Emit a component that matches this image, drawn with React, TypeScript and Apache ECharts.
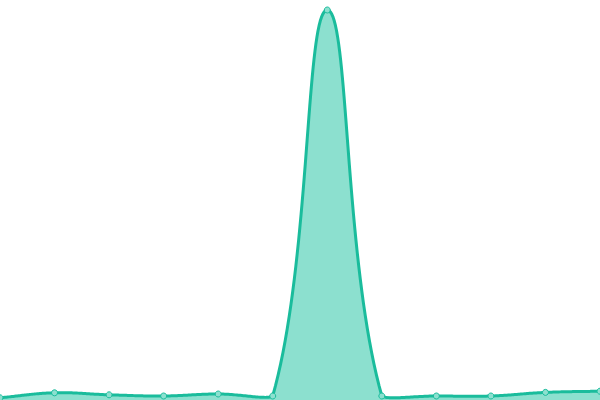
import { useEffect, useRef } from 'react';
import * as echarts from 'echarts';

const categories = ['1', '2', '3', '4', '5', '6', '7', '8', '9', '10', '11', '12'];
const values = [0.55, 1.8, 1.3, 1.0, 1.5, 1.0, 97.5, 1.0, 1.0, 1.0, 1.9, 2.2];

const LINE_COLOR = '#1abc9c';
const FILL_COLOR = '#8ce0cf';
const TENSION = 0.4;

type Pt = [number, number];

// cardinal-ish spline like chart.js, control points capped to the plot area
function splinePoints(pts: Pt[], area: { x: number; y: number; width: number; height: number }): Pt[] {
  const cap = (v: number, lo: number, hi: number) => Math.max(lo, Math.min(hi, v));
  const cps = pts.map((cur, i) => {
    const prev = pts[i - 1] ?? cur;
    const next = pts[i + 1] ?? cur;
    const d01 = Math.hypot(cur[0] - prev[0], cur[1] - prev[1]);
    const d12 = Math.hypot(next[0] - cur[0], next[1] - cur[1]);
    const sum = d01 + d12 || 1;
    const fa = (TENSION * d01) / sum;
    const fb = (TENSION * d12) / sum;
    const dx = next[0] - prev[0];
    const dy = next[1] - prev[1];
    const before: Pt = [cap(cur[0] - fa * dx, area.x, area.x + area.width), cap(cur[1] - fa * dy, area.y, area.y + area.height)];
    const after: Pt = [cap(cur[0] + fb * dx, area.x, area.x + area.width), cap(cur[1] + fb * dy, area.y, area.y + area.height)];
    return { before, after };
  });
  const out: Pt[] = [pts[0]];
  const steps = 40;
  for (let i = 0; i < pts.length - 1; i++) {
    const p0 = pts[i];
    const c0 = cps[i].after;
    const c1 = cps[i + 1].before;
    const p1 = pts[i + 1];
    for (let s = 1; s <= steps; s++) {
      const t = s / steps;
      const u = 1 - t;
      out.push([
        u * u * u * p0[0] + 3 * u * u * t * c0[0] + 3 * u * t * t * c1[0] + t * t * t * p1[0],
        u * u * u * p0[1] + 3 * u * u * t * c0[1] + 3 * u * t * t * c1[1] + t * t * t * p1[1],
      ]);
    }
  }
  return out;
}

export default function App() {
  const chartRef = useRef<HTMLDivElement | null>(null);

  useEffect(() => {
    if (!chartRef.current) {
      return;
    }
    const chart = echarts.init(chartRef.current, undefined, { renderer: 'svg' });
    chart.setOption({
      animation: false,
      backgroundColor: '#ffffff',
      grid: { left: 0, right: 0, top: 0, bottom: 0 },
      xAxis: {
        type: 'category',
        boundaryGap: false,
        data: categories,
        show: false,
      },
      yAxis: {
        type: 'value',
        min: 0,
        max: 100,
        show: false,
      },
      series: [
        {
          type: 'custom',
          data: values.map((v, i) => [i, v]),
          z: 1,
          renderItem: (params: any, api: any) => {
            if (params.dataIndex !== 0) {
              return null;
            }
            const area = params.coordSys;
            const pts: Pt[] = values.map((v, i) => api.coord([i, v]) as Pt);
            const curve = splinePoints(pts, area);
            const bottom = area.y + area.height;
            const polygon = [...curve, [curve[curve.length - 1][0], bottom], [curve[0][0], bottom]];
            return {
              type: 'group',
              children: [
                { type: 'polygon', shape: { points: polygon }, style: { fill: FILL_COLOR, stroke: null } },
                { type: 'polyline', shape: { points: curve }, style: { fill: null, stroke: LINE_COLOR, lineWidth: 3, lineJoin: 'round' } },
              ],
            };
          },
        },
        {
          type: 'scatter',
          data: values.map((v, i) => [i, v]),
          z: 2,
          symbol: 'circle',
          symbolSize: 6,
          itemStyle: { color: FILL_COLOR, borderColor: LINE_COLOR, borderWidth: 1, opacity: 1 },
        },
      ],
    });
    return () => {
      chart.dispose();
    };
  }, []);

  return <div ref={chartRef} style={{ position: 'fixed', left: 0, top: 0, width: 600, height: 400 }} />;
}
